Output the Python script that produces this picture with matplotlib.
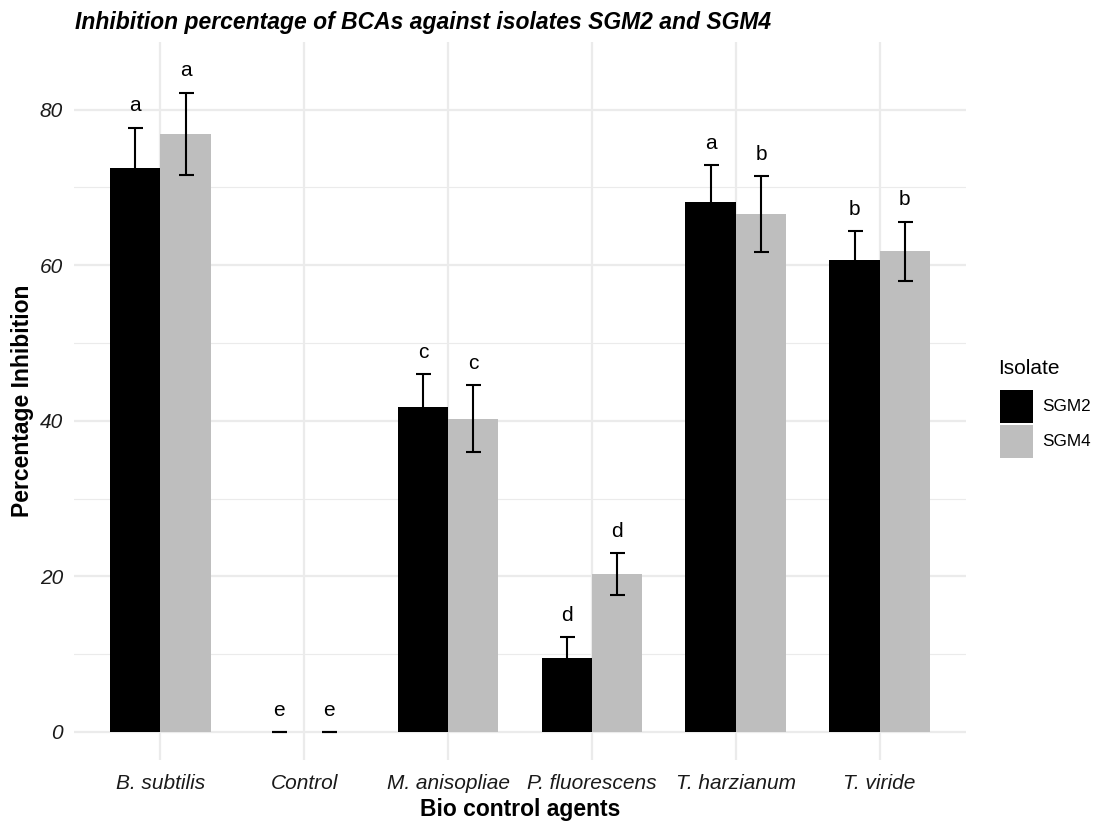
import matplotlib.pyplot as plt
import numpy as np
from matplotlib.patches import Rectangle

plt.rcParams['font.family'] = ['Liberation Sans', 'DejaVu Sans']

agents = ['B. subtilis', 'Control', 'M. anisopliae', 'P. fluorescens', 'T. harzianum', 'T. viride']
sgm2 = [72.5, 0, 41.8, 9.5, 68.1, 60.7]
sgm2_err = [5.2, 0, 4.2, 2.7, 4.8, 3.7]
sgm2_letters = ['a', 'e', 'c', 'd', 'a', 'b']
sgm4 = [76.9, 0, 40.3, 20.3, 66.6, 61.8]
sgm4_err = [5.3, 0, 4.3, 2.7, 4.9, 3.8]
sgm4_letters = ['a', 'e', 'c', 'd', 'b', 'b']
isolates = ['SGM2', 'SGM4']

black = '#000000'
grey = '#BEBEBE'
grid_col = '#EBEBEB'
W, H = 1100, 821

fig = plt.figure(figsize=(11, 8.21), dpi=100)
ax = fig.add_axes([74 / W, 1 - 760 / H, 892 / W, 718 / H])

x = np.arange(1, len(agents) + 1)
w = 0.35

ax.bar(x - w / 2, sgm2, width=w, color=black, zorder=2)
ax.bar(x + w / 2, sgm4, width=w, color=grey, zorder=2)

# error bars and significance letters
for xs, vals, errs, letters in [(x - w / 2, sgm2, sgm2_err, sgm2_letters),
                                (x + w / 2, sgm4, sgm4_err, sgm4_letters)]:
    ax.errorbar(xs, vals, yerr=errs, fmt='none', ecolor='black', elinewidth=1.5,
                capsize=5.4, capthick=1.5, zorder=3)
    for xi, v, e, lab in zip(xs, vals, errs, letters):
        ax.text(xi, v + e + 2.8, lab, ha='center', va='center', fontsize=15, color='black', zorder=4)

ax.set_xlim(0.4, 6.6)
ax.set_ylim(-3.6, 88.7)
ax.set_xticks(x)
ax.set_xticklabels(agents, fontstyle='italic', fontsize=15, color='#1A1A1A')
ax.set_yticks([0, 20, 40, 60, 80])
ax.set_yticklabels(['0', '20', '40', '60', '80'], fontstyle='italic', fontsize=15, color='#1A1A1A')
ax.set_yticks([10, 30, 50, 70], minor=True)
ax.tick_params(axis='both', which='both', length=0)
ax.tick_params(axis='x', pad=10)
ax.tick_params(axis='y', pad=8)

ax.grid(axis='y', which='major', color=grid_col, linewidth=1.6, zorder=0)
ax.grid(axis='y', which='minor', color=grid_col, linewidth=0.8, zorder=0)
ax.grid(axis='x', which='major', color=grid_col, linewidth=1.6, zorder=0)
ax.set_axisbelow(True)
for s in ax.spines.values():
    s.set_visible(False)

ax.set_xlabel('Bio control agents', fontsize=16.5, fontweight='bold', labelpad=4)
ax.set_ylabel('Percentage Inhibition', fontsize=16.5, fontweight='bold', labelpad=4)
fig.text(75 / W, 1 - 22 / H, 'Inhibition percentage of BCAs against isolates SGM2 and SGM4',
         fontsize=16.5, fontweight='bold', fontstyle='italic', ha='left', va='center')

# legend on the right
fig.text(998 / W, 1 - 368 / H, 'Isolate', fontsize=15, ha='left', va='center')
for i, (name, col) in enumerate(zip(isolates, [black, grey])):
    top = 390 + i * 35
    fig.patches.append(Rectangle((1000 / W, 1 - (top + 33) / H), 33 / W, 33 / H,
                                 transform=fig.transFigure, facecolor=col, edgecolor='none'))
    fig.text(1042 / W, 1 - (top + 16.5) / H, name, fontsize=12.3, ha='left', va='center')

fig.savefig('out.png', dpi=100)
